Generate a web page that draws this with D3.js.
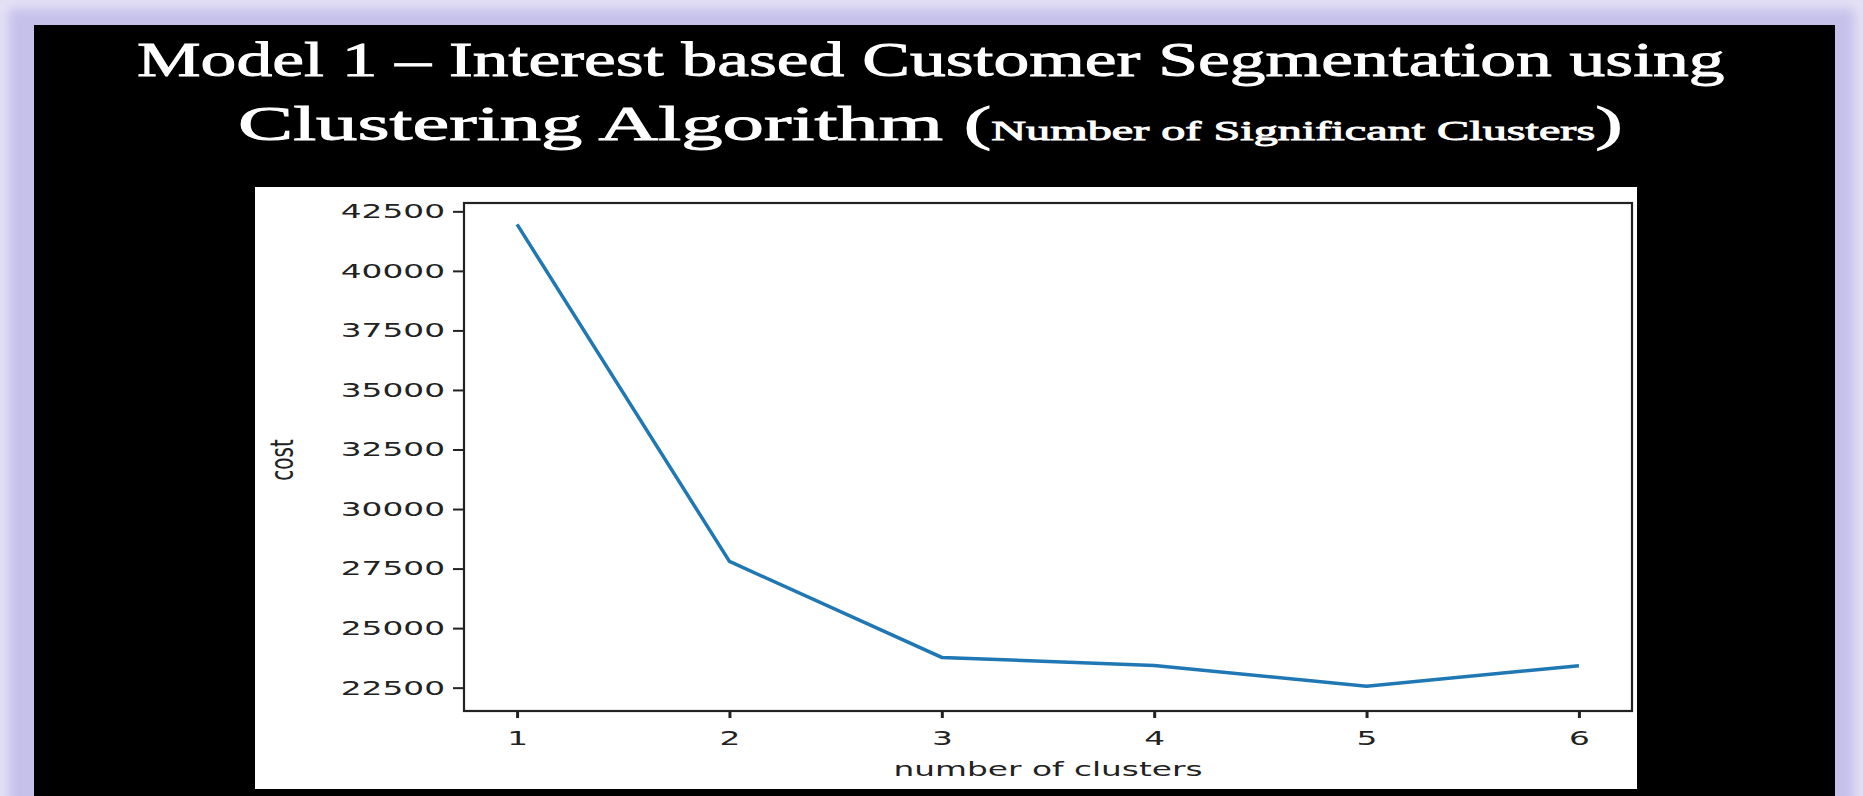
<!DOCTYPE html>
<html>
<head>
<meta charset="utf-8">
<script src="https://cdn.jsdelivr.net/npm/d3@7"></script>
<style>
  html, body { margin: 0; padding: 0; background: #c6c1eb; overflow: hidden; }
  svg { display: block; }
</style>
</head>
<body>
<div id="chart"></div>
<script>
// Data
const clusters = [1, 2, 3, 4, 5, 6];
const cost = [41950, 27800, 23770, 23430, 22560, 23420];
const yTicks = [22500, 25000, 27500, 30000, 32500, 35000, 37500, 40000, 42500];
const xTicks = [1, 2, 3, 4, 5, 6];
const titleLine1 = "Model 1 \u2013 Interest based Customer Segmentation using";
const titleLine2 = ["Clustering Algorithm (", "Number of Significant Clusters", ")"];
const xLabel = "number of clusters";
const yLabel = "cost";

const W = 1863, H = 796;
// the matplotlib figure was stretched sideways on the slide
const stretch = 1.64;

const svg = d3.select('#chart')
    .append('svg')
    .attr('width', W)
    .attr('height', H);

// Lavender frame with a soft light edge
const defs = svg.append('defs');
defs.append('filter').attr('id', 'soft')
    .append('feGaussianBlur').attr('stdDeviation', 6);

svg.append('rect')
    .attr('width', W).attr('height', H)
    .attr('fill', '#c6c1eb');
svg.append('rect')
    .attr('x', 0).attr('y', 0)
    .attr('width', W).attr('height', H + 40)
    .attr('fill', 'none')
    .attr('stroke', '#e6e3f6')
    .attr('stroke-width', 16)
    .attr('filter', 'url(#soft)');

// Black slide panel
svg.append('rect')
    .attr('x', 34).attr('y', 25)
    .attr('width', 1835 - 34).attr('height', H - 25)
    .attr('fill', '#000');

// Title, stretched to fill the same width as the slide text
function fitText(sel, x0, x1) {
    const box = sel.node().getBBox();
    const sx = (x1 - x0) / box.width;
    sel.attr('transform', `translate(${x0 - box.x * sx},0) scale(${sx},1)`);
}

function titleText(yPos, size) {
    return svg.append('text')
        .attr('y', yPos)
        .attr('fill', '#fff')
        .attr('stroke', '#fff')
        .attr('stroke-width', 0.9)
        .style('font-family', '"Liberation Serif", serif')
        .style('font-size', size + 'px');
}

const t1 = titleText(76, 49).text(titleLine1);
fitText(t1, 137, 1725);

const t2 = titleText(140, 48);
t2.append('tspan').text(titleLine2[0]);
t2.append('tspan').style('font-size', '28px').text(titleLine2[1]);
t2.append('tspan').text(titleLine2[2]);
fitText(t2, 238, 1623);

// White figure area
svg.append('rect')
    .attr('x', 255).attr('y', 187)
    .attr('width', 1637 - 255).attr('height', 789 - 187)
    .attr('fill', '#fff');

// Plot area
const plot = { left: 464, right: 1632, top: 203, bottom: 711 };

const x = d3.scaleLinear()
    .domain([0.75, 6.25])
    .range([plot.left, plot.right]);

const y = d3.scaleLinear()
    .domain([21520, 42850])
    .range([plot.bottom, plot.top]);

const fontFamily = '"DejaVu Sans", sans-serif';

// Y axis
const yAxis = svg.append('g')
    .attr('transform', `translate(${plot.left},0)`)
    .call(d3.axisLeft(y).tickValues(yTicks).tickFormat(d3.format('d')).tickSize(11).tickSizeOuter(0));
yAxis.select('.domain').remove();
yAxis.selectAll('line').attr('stroke', '#222').attr('stroke-width', 2);
yAxis.selectAll('text')
    .attr('x', 0)
    .attr('fill', '#222')
    .attr('transform', `translate(-19,0) scale(${stretch},1)`)
    .style('font-family', fontFamily)
    .style('font-size', '20px');

// X axis
const xAxis = svg.append('g')
    .attr('transform', `translate(0,${plot.bottom})`)
    .call(d3.axisBottom(x).tickValues(xTicks).tickFormat(d3.format('d')).tickSize(7).tickSizeOuter(0));
xAxis.select('.domain').remove();
xAxis.selectAll('line').attr('stroke', '#222').attr('stroke-width', 3);
xAxis.selectAll('text')
    .attr('y', 0)
    .attr('dy', 0)
    .attr('fill', '#222')
    .attr('transform', `translate(0,34) scale(${stretch},1)`)
    .style('font-family', fontFamily)
    .style('font-size', '20px');

// Spines
svg.append('rect')
    .attr('x', plot.left).attr('y', plot.top)
    .attr('width', plot.right - plot.left)
    .attr('height', plot.bottom - plot.top)
    .attr('fill', 'none')
    .attr('stroke', '#222')
    .attr('stroke-width', 2.2);

// Axis labels
svg.append('text')
    .attr('transform', `translate(${(plot.left + plot.right) / 2},776) scale(${stretch},1)`)
    .attr('text-anchor', 'middle')
    .attr('fill', '#222')
    .style('font-family', fontFamily)
    .style('font-size', '20px')
    .text(xLabel);

svg.append('text')
    .attr('transform', `translate(293,460) rotate(-90) scale(1,${stretch})`)
    .attr('text-anchor', 'middle')
    .attr('fill', '#222')
    .style('font-family', fontFamily)
    .style('font-size', '20px')
    .text(yLabel);

// Cost line
const line = d3.line()
    .x((d, i) => x(clusters[i]))
    .y(d => y(d));

svg.append('path')
    .datum(cost)
    .attr('d', line)
    .attr('fill', 'none')
    .attr('stroke', '#1f77b4')
    .attr('stroke-width', 3.5);
</script>
</body>
</html>
